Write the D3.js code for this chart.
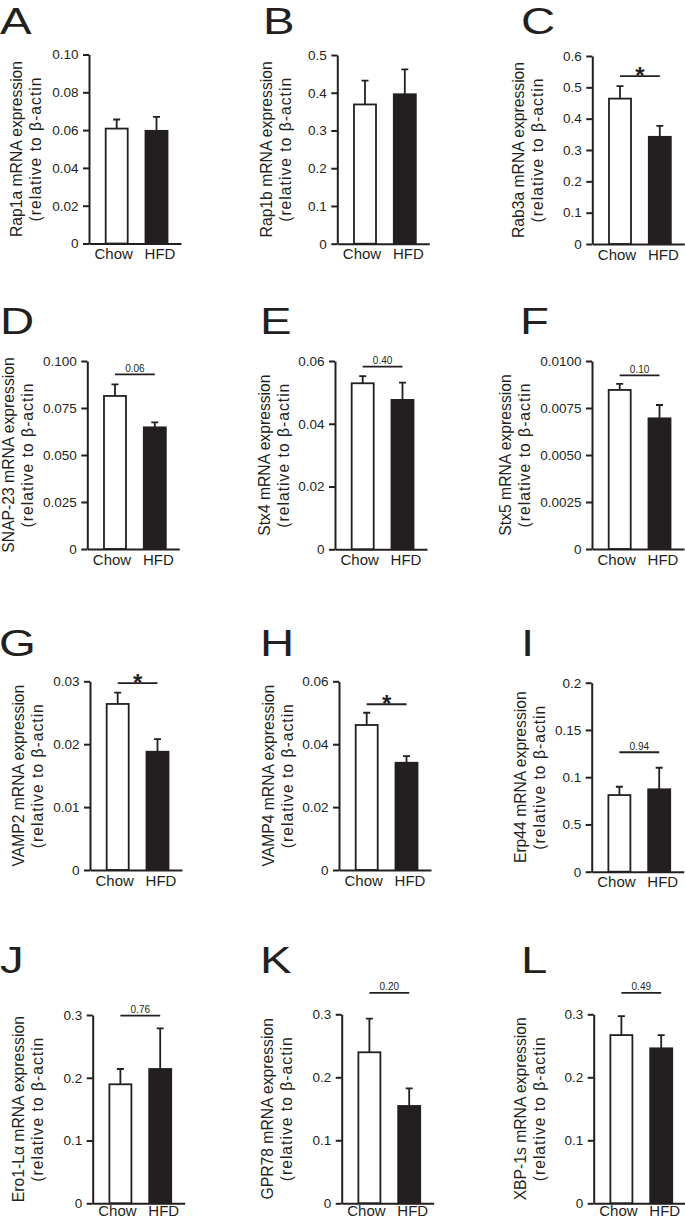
<!DOCTYPE html>
<html>
<head>
<meta charset="utf-8">
<script src="https://cdn.jsdelivr.net/npm/d3@7"></script>
<style>
  body { margin: 0; background: #fff; }
  svg { display: block; }
  text { font-family: "Liberation Sans", Arial, sans-serif; fill: #231f20; }
</style>
</head>
<body>
<svg id="fig" width="685" height="1219"></svg>
<script>
// values (mean and SEM, relative to beta-actin)
const letters = ["A", "B", "C", "D", "E", "F", "G", "H", "I", "J", "K", "L"];
const genes = ["Rap1a", "Rap1b", "Rab3a", "SNAP-23", "Stx4", "Stx5", "VAMP2", "VAMP4", "Erp44", "Ero1-Lα", "GPR78", "XBP-1s"];
const groups = ["Chow", "HFD"];
const chowMean = [0.0608, 0.369, 0.464, 0.0814, 0.0529, 0.00846, 0.0264, 0.0461, 0.0811, 0.1896, 0.2397, 0.267];
const chowSem = [0.0048, 0.063, 0.040, 0.0062, 0.0023, 0.00032, 0.0018, 0.0039, 0.0088, 0.0244, 0.0533, 0.030];
const hfdMean = [0.0596, 0.396, 0.342, 0.0647, 0.0476, 0.00695, 0.0188, 0.0341, 0.0872, 0.214, 0.1545, 0.246];
const hfdSem = [0.0074, 0.066, 0.035, 0.0027, 0.0055, 0.00071, 0.0020, 0.0021, 0.0228, 0.0648, 0.028, 0.021];
const yMax = [0.10, 0.5, 0.6, 0.100, 0.06, 0.0100, 0.03, 0.06, 0.2, 0.3, 0.3, 0.3];
const tickValues = [
  [0, 0.02, 0.04, 0.06, 0.08, 0.10],
  [0, 0.1, 0.2, 0.3, 0.4, 0.5],
  [0, 0.1, 0.2, 0.3, 0.4, 0.5, 0.6],
  [0, 0.025, 0.05, 0.075, 0.1],
  [0, 0.02, 0.04, 0.06],
  [0, 0.0025, 0.005, 0.0075, 0.01],
  [0, 0.01, 0.02, 0.03],
  [0, 0.02, 0.04, 0.06],
  [0, 0.05, 0.1, 0.15, 0.2],
  [0, 0.1, 0.2, 0.3],
  [0, 0.1, 0.2, 0.3],
  [0, 0.1, 0.2, 0.3]
];
const tickLabels = [
  ["0", "0.02", "0.04", "0.06", "0.08", "0.10"],
  ["0", "0.1", "0.2", "0.3", "0.4", "0.5"],
  ["0", "0.1", "0.2", "0.3", "0.4", "0.5", "0.6"],
  ["0", "0.025", "0.050", "0.075", "0.100"],
  ["0", "0.02", "0.04", "0.06"],
  ["0", "0.0025", "0.0050", "0.0075", "0.0100"],
  ["0", "0.01", "0.02", "0.03"],
  ["0", "0.02", "0.04", "0.06"],
  ["0", "0.5", "0.1", "0.15", "0.2"],
  ["0", "0.1", "0.2", "0.3"],
  ["0", "0.1", "0.2", "0.3"],
  ["0", "0.1", "0.2", "0.3"]
];
const sigText = [null, null, "*", "0.06", "0.40", "0.10", "*", "*", "0.94", "0.76", "0.20", "0.49"];
const sigLevel = [null, null, 0.536, 0.0929, 0.0582, 0.00924, 0.0297, 0.0527, 0.1264, 0.299, 0.334, 0.334];

// where each panel sits on the page
const layout = [
  { ax: 89, top: 54.5, zero: 243.5, lx: 0, ly: 34, lab: -72, xpad: 5 },
  { ax: 337.3, top: 55, zero: 243.7, lx: 263, ly: 34, lab: -70, xpad: 5 },
  { ax: 592.3, top: 56, zero: 244, lx: 521, ly: 34, lab: -73, xpad: 5 },
  { ax: 87.3, top: 361, zero: 549, lx: 0, ly: 334, lab: -78, xpad: 5 },
  { ax: 335, top: 361, zero: 549.3, lx: 260, ly: 334, lab: -70, xpad: 5 },
  { ax: 592, top: 361, zero: 549, lx: 520, ly: 334, lab: -86, xpad: 5 },
  { ax: 90, top: 681.3, zero: 870, lx: -1, ly: 656, lab: -71, xpad: 5 },
  { ax: 339, top: 681.3, zero: 870, lx: 260, ly: 656, lab: -70, xpad: 5 },
  { ax: 591.7, top: 682.7, zero: 871.7, lx: 521, ly: 656, lab: -71, xpad: 5 },
  { ax: 92.7, top: 1015, zero: 1203.3, lx: 0, ly: 973, lab: -74, xpad: 1.8 },
  { ax: 341.7, top: 1014.3, zero: 1203.3, lx: 260, ly: 973, lab: -74, xpad: 1.8 },
  { ax: 593.7, top: 1014.3, zero: 1203.3, lx: 521, ly: 973, lab: -73, xpad: 1.8 }
];

const ink = "#231f20";
const svg = d3.select("#fig");
svg.append("rect").attr("width", 685).attr("height", 1219).attr("fill", "#fff");

const x = d3.scaleBand()
  .domain(groups)
  .range([0, 92])
  .paddingInner(0.447)
  .paddingOuter(0.379)
  .align(0.553);

letters.forEach(function (letter, i) {
  const L = layout[i];
  const y = d3.scaleLinear().domain([0, yMax[i]]).range([L.zero - L.top, 0]);
  const h = L.zero - L.top;

  svg.append("text")
    .attr("transform", "translate(" + L.lx + "," + L.ly + ") scale(1.28,1)")
    .attr("font-size", 37)
    .text(letter);

  const g = svg.append("g").attr("transform", "translate(" + L.ax + "," + L.top + ")");

  const vals = [
    { group: "Chow", mean: chowMean[i], sem: chowSem[i] },
    { group: "HFD", mean: hfdMean[i], sem: hfdSem[i] }
  ];

  // error bars (upper only)
  g.selectAll(".err")
    .data(vals)
    .join("path")
    .attr("d", function (d) {
      const cx = x(d.group) + x.bandwidth() / 2;
      return "M" + cx + "," + y(d.mean) + "V" + y(d.mean + d.sem) +
        "M" + (cx - 3.5) + "," + y(d.mean + d.sem) + "H" + (cx + 3.5);
    })
    .attr("fill", "none")
    .attr("stroke", ink)
    .attr("stroke-width", 1.8);

  g.selectAll(".bar")
    .data(vals)
    .join("rect")
    .attr("x", function (d) { return x(d.group); })
    .attr("y", function (d) { return y(d.mean); })
    .attr("width", x.bandwidth())
    .attr("height", function (d) { return y(0) - y(d.mean); })
    .attr("fill", function (d) { return d.group === "HFD" ? ink : "#fff"; })
    .attr("stroke", ink)
    .attr("stroke-width", 1.8);

  const yAxis = g.append("g")
    .call(d3.axisLeft(y)
      .tickValues(tickValues[i])
      .tickFormat(function (d, k) { return tickLabels[i][k]; })
      .tickSize(6)
      .tickSizeOuter(0)
      .tickPadding(4.5));
  yAxis.select(".domain").attr("stroke", ink).attr("stroke-width", 2);
  yAxis.selectAll(".tick line").attr("stroke", ink).attr("stroke-width", 2);
  yAxis.selectAll(".tick text")
    .attr("font-size", 13.5)
    .attr("fill", ink);

  const xAxis = g.append("g")
    .attr("transform", "translate(0," + h + ")")
    .call(d3.axisBottom(x).tickSize(0).tickSizeOuter(0).tickPadding(L.xpad));
  xAxis.select(".domain").attr("stroke", ink).attr("stroke-width", 2);
  xAxis.selectAll(".tick text")
    .attr("font-size", 15)
    .attr("fill", ink)
    .attr("dx", function (d) { return d === "Chow" ? -3 : 3.5; });

  // y label in two lines
  const lab = g.append("text")
    .attr("transform", "translate(" + (L.lab + 5) + "," + (h / 2) + ") rotate(-90)")
    .attr("text-anchor", "middle")
    .attr("font-size", 15.7);
  lab.append("tspan").attr("x", 0).attr("dy", 0).text(genes[i] + " mRNA expression");
  lab.append("tspan").attr("x", 0).attr("dy", 19)
    .attr("letter-spacing", 1)
    .text("(relative to β-actin");

  // significance bracket
  if (sigText[i]) {
    const x1 = x("Chow") + x.bandwidth() / 2;
    const x2 = x("HFD") + x.bandwidth() / 2;
    const sy = y(sigLevel[i]);
    g.append("line")
      .attr("x1", x1).attr("x2", x2)
      .attr("y1", sy).attr("y2", sy)
      .attr("stroke", ink)
      .attr("stroke-width", 1.8);
    if (sigText[i] === "*") {
      g.append("text")
        .attr("x", (x1 + x2) / 2)
        .attr("y", sy + 8)
        .attr("text-anchor", "middle")
        .attr("font-size", 24)
        .attr("font-weight", "bold")
        .text("*");
    } else {
      g.append("text")
        .attr("x", (x1 + x2) / 2)
        .attr("y", sy - 2.5)
        .attr("text-anchor", "middle")
        .attr("font-size", 10)
        .text(sigText[i]);
    }
  }
});
</script>
</body>
</html>
